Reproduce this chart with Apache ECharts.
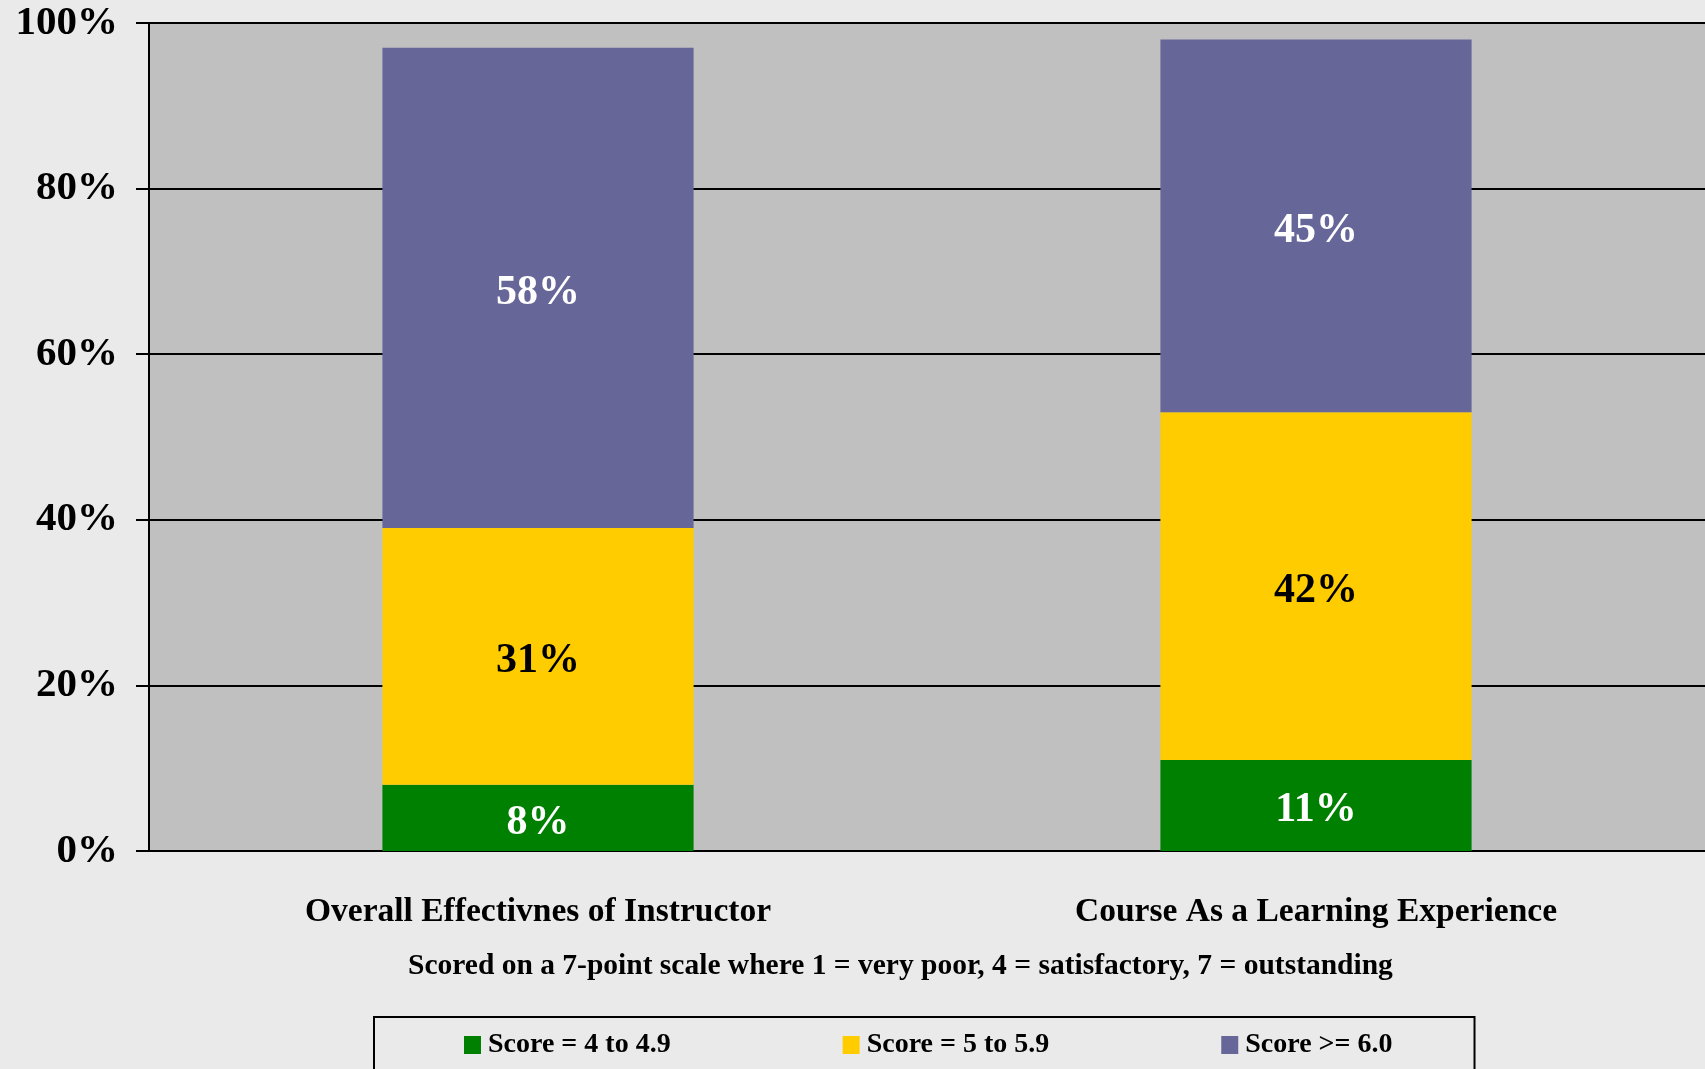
<!DOCTYPE html>
<html><head><meta charset="utf-8">
<script src="https://cdn.jsdelivr.net/npm/echarts@6/dist/echarts.min.js"></script>
<style>html,body{margin:0;padding:0;background:#EAEAEA;}#c{width:1705px;height:1069px;}</style>
</head><body><div id="c"></div>
<script>
const categories = ['Overall Effectivnes of Instructor', 'Course As a Learning Experience'];
const seriesNames = ['Score = 4 to 4.9', 'Score = 5 to 5.9', 'Score >= 6.0'];
const score4to49 = [8, 11];
const score5to59 = [31, 42];
const score6plus = [58, 45];
const yTicks = [0, 20, 40, 60, 80, 100];
const subtitle = 'Scored on a 7-point scale where 1 = very poor, 4 = satisfactory, 7 = outstanding';

const FONT = '"Liberation Serif", "Times New Roman", serif';
const colors = ['#008000', '#FFCC00', '#666699'];
const labelColors = ['#FFFFFF', '#000000', '#FFFFFF'];
const values = [score4to49, score5to59, score6plus];

const chart = echarts.init(document.getElementById('c'));
chart.setOption({
  backgroundColor: '#EAEAEA',
  animation: false,
  title: {
    text: subtitle,
    left: 403, top: 946,
    textStyle: { fontFamily: FONT, fontWeight: 'bold', fontSize: 29.5, color: '#000' }
  },
  legend: {
    data: seriesNames,
    left: 374, top: 1017,
    padding: [14, 82, 40, 90],
    borderColor: '#000', borderWidth: 2,
    itemWidth: 17, itemHeight: 18, itemGap: 172,
    icon: 'rect',
    textStyle: { fontFamily: FONT, fontWeight: 'bold', fontSize: 28, color: '#000', width: 182, padding: [0,0,0,2] }
  },
  grid: { left: 149, top: 23, right: 0, bottom: 218, show: true, backgroundColor: '#C0C0C0', borderWidth: 0 },
  xAxis: {
    type: 'category', data: categories,
    axisLine: { lineStyle: { color: '#000', width: 2 } },
    axisTick: { length: 13, lineStyle: { color: '#000', width: 2 } },
    axisLabel: { margin: 44, fontFamily: FONT, fontWeight: 'bold', fontSize: 33.5, lineHeight: 34, color: '#000' }
  },
  yAxis: {
    type: 'value', min: yTicks[0], max: yTicks[yTicks.length-1], interval: 20,
    axisLine: { show: true, lineStyle: { color: '#000', width: 2 } },
    axisTick: { show: true, length: 13, lineStyle: { color: '#000', width: 2 } },
    splitLine: { lineStyle: { color: '#000', width: 2 } },
    axisLabel: { margin: 31, formatter: '{value}%', fontFamily: FONT, fontWeight: 'bold', fontSize: 41, color: '#000', padding: [5,0,0,0] }
  },
  series: seriesNames.map((n, i) => ({
    name: n, type: 'bar', stack: 'total', data: values[i],
    barCategoryGap: '60%',
    itemStyle: { color: colors[i] },
    label: { show: true, position: 'inside', offset: [0, 5], formatter: '{c}%', fontFamily: FONT, fontWeight: 'bold', fontSize: 42, color: labelColors[i] }
  }))
});
</script></body></html>
